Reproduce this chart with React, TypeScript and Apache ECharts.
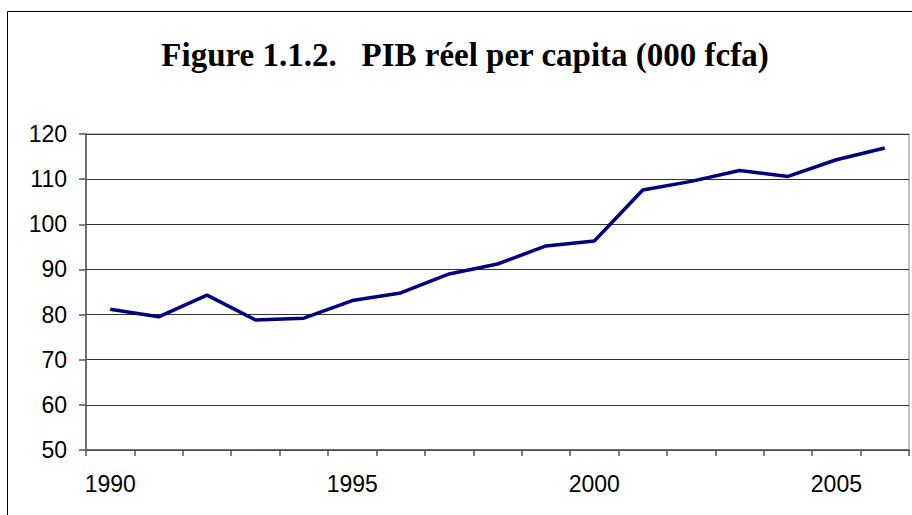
import React, { useEffect, useRef } from "react";
import * as echarts from "echarts";

const years = [
  "1990", "1991", "1992", "1993", "1994", "1995", "1996", "1997", "1998",
  "1999", "2000", "2001", "2002", "2003", "2004", "2005", "2006",
];
const pibValues = [
  81.2, 79.5, 84.3, 78.8, 79.2, 83.1, 84.8, 89.0, 91.2,
  95.2, 96.3, 107.6, 109.5, 111.9, 110.6, 114.3, 116.9,
];
const titleText = "Figure 1.1.2.\u00a0\u00a0\u00a0PIB réel per capita (000 fcfa)";
const yMin = 50;
const yMax = 120;
const yStep = 10;

export default function App() {
  const ref = useRef<HTMLDivElement>(null);
  useEffect(() => {
    if (!ref.current) return;
    const chart = echarts.init(ref.current, null, { renderer: "svg" });
    chart.setOption({
      animation: false,
      backgroundColor: "#ffffff",
      title: {
        text: titleText,
        left: 465,
        top: 38,
        textAlign: "center",
        padding: 0,
        textStyle: {
          fontFamily: "'Liberation Serif', 'Times New Roman', serif",
          fontWeight: "bold",
          fontSize: 33,
          color: "#000000",
        },
      },
      graphic: [
        {
          type: "rect",
          shape: { x: 7.5, y: 11.5, width: 920, height: 520 },
          style: { fill: "none", stroke: "#000000", lineWidth: 1 },
          silent: true,
          z: 0,
        },
      ],
      grid: {
        left: 86,
        top: 134,
        right: 3,
        bottom: 65,
        show: true,
        borderColor: "#888888",
        borderWidth: 1,
        backgroundColor: "transparent",
      },
      xAxis: {
        type: "category",
        data: years,
        boundaryGap: true,
        axisLine: { show: true, lineStyle: { color: "#555555", width: 1.5 } },
        axisTick: {
          show: true,
          interval: 0,
          length: 6,
          lineStyle: { color: "#555555", width: 1.5 },
        },
        axisLabel: {
          interval: 4,
          margin: 22,
          fontFamily: "'Liberation Sans', Arial, sans-serif",
          fontSize: 23,
          color: "#000000",
        },
        splitLine: { show: false },
      },
      yAxis: {
        type: "value",
        min: yMin,
        max: yMax,
        interval: yStep,
        axisLine: { show: true, lineStyle: { color: "#555555", width: 1.5 } },
        axisTick: {
          show: true,
          length: 7,
          lineStyle: { color: "#555555", width: 1.5 },
        },
        axisLabel: {
          margin: 19,
          fontFamily: "'Liberation Sans', Arial, sans-serif",
          fontSize: 23,
          color: "#000000",
        },
        splitLine: { show: true, lineStyle: { color: "#333333", width: 1 } },
      },
      series: [
        {
          type: "line",
          data: pibValues,
          showSymbol: false,
          symbol: "none",
          lineStyle: { color: "#000080", width: 3.5 },
          itemStyle: { color: "#000080" },
        },
      ],
    });
    return () => chart.dispose();
  }, []);
  return (
    <div
      ref={ref}
      style={{ position: "fixed", left: 0, top: 0, width: 912, height: 515 }}
    />
  );
}
